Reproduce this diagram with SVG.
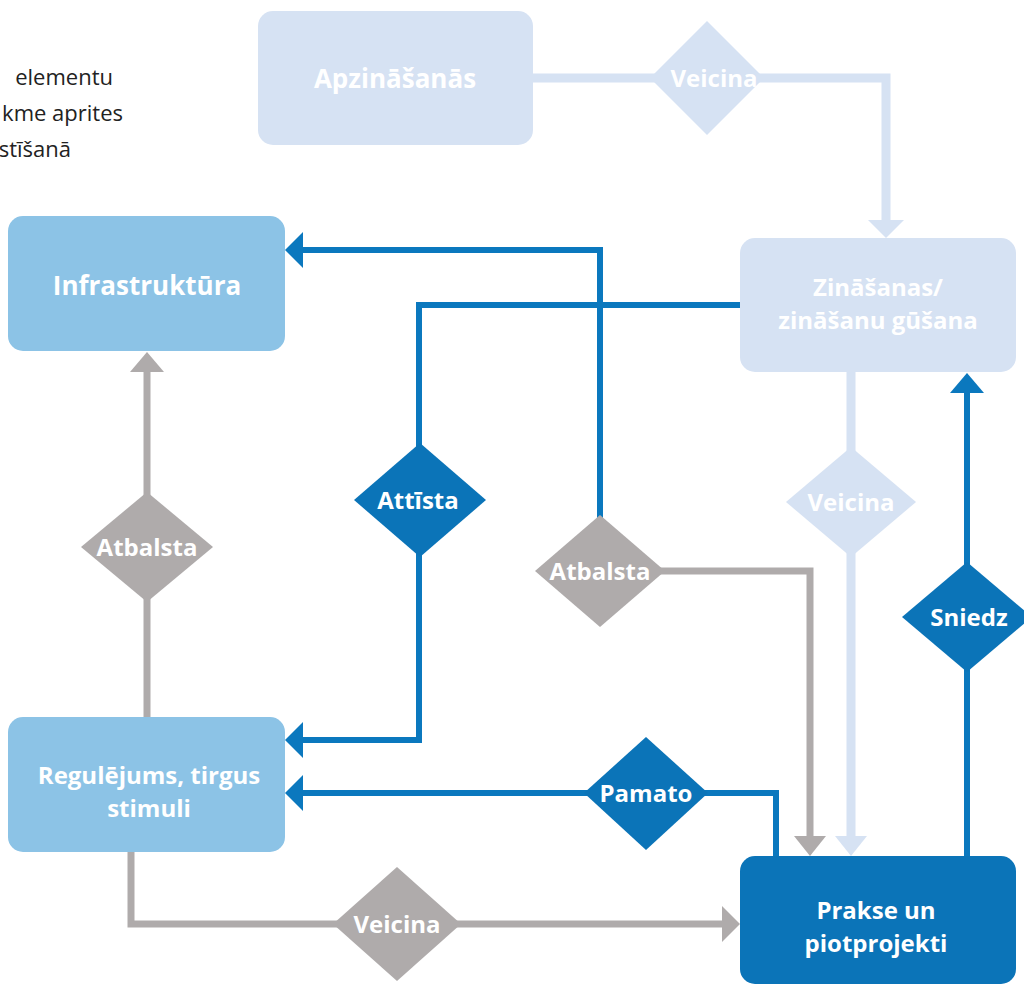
<svg xmlns="http://www.w3.org/2000/svg" width="1024" height="985" viewBox="0 0 1024 985">
<style>
.t{font-family:"Open Sans","Liberation Sans",sans-serif;font-weight:700;fill:#fff;text-anchor:middle;font-size:26px}
.m{font-size:24px}
.d{font-size:24px}
.cap{font-family:"Open Sans","Liberation Sans",sans-serif;font-size:22px;fill:#222;text-anchor:end}
.pale{fill:#d6e2f3}
.lb{fill:#8cc3e6}
.db{fill:#0b74b8}
.gr{fill:#afabab}
.lp{stroke:#d6e2f3;stroke-width:9;fill:none}
.lbl{stroke:#0b78be;stroke-width:6;fill:none}
.lg{stroke:#afabab;stroke-width:7;fill:none}
</style>
<rect width="1024" height="985" fill="#fff"/>
<g id="caption">
<text class="cap" x="113" y="85">elementu</text>
<text class="cap" x="123" y="121">kme aprites</text>
<text class="cap" x="71" y="157">stīšanā</text>
</g>
<g id="connectors">
<path class="lp" d="M533 78H886V222"/>
<polygon class="pale" points="868,220 904,220 886,238"/>
<path class="lbl" d="M600 520V250H300"/>
<polygon fill="#0b78be" points="303,232 303,268 285,250"/>
<path class="lbl" d="M740 305H419V740H300"/>
<polygon fill="#0b78be" points="303,722 303,758 285,740"/>
<path class="lg" d="M660 571H810V838"/>
<polygon class="gr" points="794,836 826,836 810,856"/>
<path class="lp" d="M851 372V838"/>
<polygon class="pale" points="835,836 867,836 851,856"/>
<path class="lbl" d="M967 856V390"/>
<polygon fill="#0b78be" points="950,393 984,393 967,373"/>
<path class="lbl" d="M776 856V793H300"/>
<polygon fill="#0b78be" points="303,775 303,811 285,793"/>
<path class="lg" d="M131 852V924H724"/>
<polygon class="gr" points="722,906 722,942 740,924"/>
<path class="lg" d="M147 717V370"/>
<polygon class="gr" points="130,372 164,372 147,352"/>
</g>
<g id="apzinasanas"><rect class="pale" x="258" y="11" width="275" height="134" rx="15"/><text class="t" x="395" y="88">Apzināšanās</text></g>
<g id="zinasanas"><rect class="pale" x="740" y="238" width="276" height="134" rx="15"/><text class="t m" x="878" y="296">Zināšanas/</text><text class="t m" x="878" y="329">zināšanu gūšana</text></g>
<g id="infrastruktura"><rect class="lb" x="8" y="216" width="277" height="135" rx="15"/><text class="t" x="147" y="295">Infrastruktūra</text></g>
<g id="regulejums"><rect class="lb" x="8" y="717" width="277" height="135" rx="15"/><text class="t m" x="149" y="784">Regulējums, tirgus</text><text class="t m" x="149" y="817">stimuli</text></g>
<g id="prakse"><rect class="db" x="740" y="856" width="276" height="128" rx="15"/><text class="t m" x="876" y="919">Prakse un</text><text class="t m" x="876" y="952">piotprojekti</text></g>
<g id="d-veicina-top"><polygon class="pale" points="707,21 764,78 707,135 650,78"/><text class="t d" x="714" y="87">Veicina</text></g>
<g id="d-atbalsta-left"><polygon class="gr" points="147,492 213,547 147,602 81,547"/><text class="t d" x="147" y="556">Atbalsta</text></g>
<g id="d-attista"><polygon class="db" points="420,443 486,500 420,557 354,500"/><text class="t d" x="418" y="509">Attīsta</text></g>
<g id="d-atbalsta-mid"><polygon class="gr" points="600,515 665,571 600,627 535,571"/><text class="t d" x="600" y="580">Atbalsta</text></g>
<g id="d-veicina-right"><polygon class="pale" points="851,447 916,502 851,557 786,502"/><text class="t d" x="851" y="511">Veicina</text></g>
<g id="d-sniedz"><polygon class="db" points="967,562 1032,617 967,672 902,617"/><text class="t d" x="969" y="626">Sniedz</text></g>
<g id="d-pamato"><polygon class="db" points="646,737 708,793 646,850 584,793"/><text class="t d" x="646" y="802">Pamato</text></g>
<g id="d-veicina-bottom"><polygon class="gr" points="397,867 461,924 397,981 333,924"/><text class="t d" x="397" y="933">Veicina</text></g>
</svg>
